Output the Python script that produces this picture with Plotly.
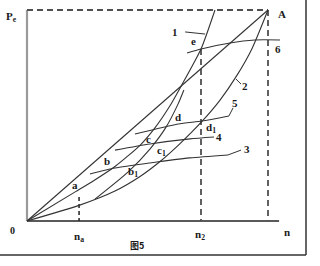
import plotly.graph_objects as go

# ---- data (n relative to rated speed, Pe relative to rated power) ----
oa_n = [0.0, 1.0]
oa_pe = [0.0, 1.0]

curve1_n = [0.0, 0.20, 0.27, 0.365, 0.47, 0.53, 0.59, 0.64, 0.722, 0.78]
curve1_pe = [0.0, 0.138, 0.186, 0.258, 0.36, 0.44, 0.54, 0.64, 0.815, 1.0]

curvem_n = [0.282, 0.419, 0.510, 0.577, 0.627, 0.651]
curvem_pe = [0.104, 0.232, 0.341, 0.445, 0.555, 0.621]

curve2_n = [0.0, 0.216, 0.365, 0.469, 0.552, 0.635, 0.726, 0.801, 0.871, 0.934, 1.0]
curve2_pe = [0.0, 0.074, 0.142, 0.211, 0.282, 0.367, 0.472, 0.573, 0.690, 0.818, 1.0]

line3_n = [0.261, 0.365, 0.510, 0.676, 0.834]
line3_pe = [0.223, 0.251, 0.275, 0.299, 0.313]

line4_n = [0.365, 0.510, 0.676, 0.776]
line4_pe = [0.336, 0.365, 0.389, 0.398]

line5_n = [0.448, 0.627, 0.726, 0.838]
line5_pe = [0.412, 0.460, 0.474, 0.498]

line6_n = [0.664, 0.722, 0.842, 0.946, 1.050]
line6_pe = [0.796, 0.815, 0.844, 0.858, 0.858]

n_a = 0.216
pe_a = 0.114
n_2 = 0.722
pe_e = 0.815
n_max = 1.046
pe_max = 1.0

LINE = "#333333"
DASH = "#505050"

fig = go.Figure()


def curve(xs, ys, width=1.1, color=LINE, dash=None, shape="spline"):
    fig.add_trace(go.Scatter(
        x=xs, y=ys, mode="lines",
        line=dict(color=color, width=width, dash=dash, shape=shape, smoothing=0.6),
        hoverinfo="skip", showlegend=False))


# axes
curve([0, 0], [0, pe_max], width=2.2, color="#9a9a9a", shape="linear")
curve([0, n_max], [0, 0], width=2.2, color="#5a5a5a", shape="linear")

# dashed guide lines
curve([0, 1.0], [pe_max, pe_max], width=1.8, color=DASH, dash="6px,4px", shape="linear")
curve([1.0, 1.0], [pe_max, 0], width=1.8, color=DASH, dash="6px,4px", shape="linear")
curve([n_2, n_2], [pe_e, 0], width=1.8, color=DASH, dash="6px,4px", shape="linear")
curve([n_a, n_a], [pe_a, 0], width=1.5, color="#222222", dash="4px,3px", shape="linear")

# curves
curve(oa_n, oa_pe, shape="linear")
curve(curve1_n, curve1_pe)
curve(curvem_n, curvem_pe)
curve(curve2_n, curve2_pe)
curve(line3_n, line3_pe)
curve(line4_n, line4_pe)
curve(line5_n, line5_pe)
curve(line6_n, line6_pe)

# leader lines
leaders = [
    ((0.656, 0.896), (0.739, 0.886)),
    ((0.867, 0.673), (0.888, 0.649)),
    ((0.834, 0.313), (0.888, 0.336)),
    ((0.838, 0.498), (0.855, 0.536)),
]
shapes = []
for (x0, y0), (x1, y1) in leaders:
    shapes.append(dict(type="line", xref="x", yref="y", x0=x0, y0=y0, x1=x1, y1=y1,
                       line=dict(color=LINE, width=1)))

# frame (right and bottom edges of the scanned figure box)
shapes.append(dict(type="line", xref="paper", yref="paper", x0=306 / 320, y0=1.0,
                   x1=306 / 320, y1=1 - 255 / 266, line=dict(color="#333333", width=1.5)))
shapes.append(dict(type="line", xref="paper", yref="paper", x0=0, y0=1 - 255 / 266,
                   x1=306 / 320, y1=1 - 255 / 266, line=dict(color="#333333", width=1.5)))

SERIF = "Liberation Serif"
labels = [
    ("<b>P<sub>e</sub></b>", -0.066, 0.967, 11),
    ("<b>A</b>", 1.058, 0.981, 11),
    ("<b>1</b>", 0.614, 0.896, 11),
    ("<b>e</b>", 0.689, 0.853, 11),
    ("<b>6</b>", 1.041, 0.815, 11),
    ("<b>2</b>", 0.905, 0.640, 11),
    ("<b>5</b>", 0.863, 0.559, 11),
    ("<b>d</b>", 0.627, 0.493, 11),
    ("<b>d<sub>1</sub></b>", 0.762, 0.443, 11),
    ("<b>4</b>", 0.795, 0.398, 11),
    ("<b>c</b>", 0.506, 0.389, 11),
    ("<b>c<sub>1</sub></b>", 0.559, 0.330, 11),
    ("<b>3</b>", 0.913, 0.341, 11),
    ("<b>b</b>", 0.332, 0.284, 11),
    ("<b>b<sub>1</sub></b>", 0.439, 0.230, 11),
    ("<b>a</b>", 0.199, 0.171, 11),
    ("<b>0</b>", -0.062, -0.043, 10),
    ("<b>n<sub>a</sub></b>", 0.214, -0.078, 11),
    ("<b>n<sub>2</sub></b>", 0.716, -0.068, 11),
    ("<b>n</b>", 1.079, -0.052, 11),
]
annotations = []
for text, x, y, size in labels:
    annotations.append(dict(text=text, x=x, y=y, xref="x", yref="y", showarrow=False,
                            font=dict(family=SERIF, size=size, color="#1a1a1a"),
                            xanchor="center", yanchor="middle"))
annotations.append(dict(text="<b>图5</b>", x=0.456, y=-0.114, xref="x", yref="y", showarrow=False,
                        font=dict(family="Noto Sans CJK SC", size=9, color="#1a1a1a"),
                        xanchor="center", yanchor="middle"))

fig.update_layout(
    width=320, height=266,
    margin=dict(l=0, r=0, t=0, b=0),
    paper_bgcolor="white", plot_bgcolor="white",
    xaxis=dict(range=[-27 / 241, 293 / 241], visible=False, fixedrange=True),
    yaxis=dict(range=[-45 / 211, 221 / 211], visible=False, fixedrange=True),
    shapes=shapes, annotations=annotations,
    showlegend=False,
)

fig.write_html("out.html", config={"displayModeBar": False})
